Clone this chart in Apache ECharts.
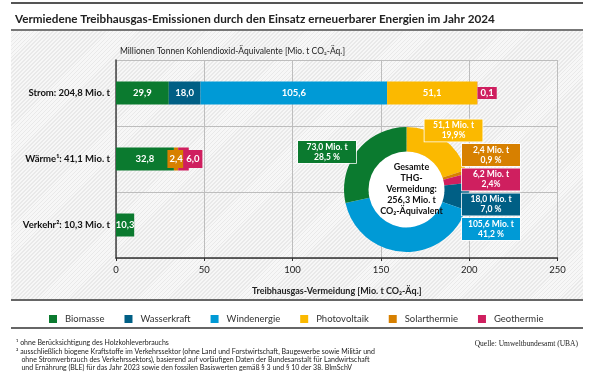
<!DOCTYPE html>
<html><head><meta charset="utf-8">
<script src="https://cdn.jsdelivr.net/npm/echarts@6/dist/echarts.min.js"></script>
<style>
html,body{margin:0;padding:0;background:#fff;}
#wrap{position:relative;width:605px;height:387px;}
#hatch{position:absolute;left:11px;top:31px;width:572px;height:268px;
background:repeating-linear-gradient(135deg,#f7f7f7 0px,#f7f7f7 1.6px,#e9e9e9 1.6px,#e9e9e9 2.8px);}
#chart{position:absolute;left:0;top:0;width:605px;height:387px;}
</style></head>
<body><div id="wrap"><div id="hatch"></div><div id="chart"></div></div>
<script>
// ---- data ----
const categories = ['Strom: 204,8 Mio. t', 'Wärme¹: 41,1 Mio. t', 'Verkehr²: 10,3 Mio. t'];
const sources = ['Biomasse', 'Wasserkraft', 'Windenergie', 'Photovoltaik', 'Solarthermie', 'Geothermie'];
const biomasse = [29.9, 32.8, 10.3];
const wasserkraft = [18.0, null, null];
const windenergie = [105.6, null, null];
const photovoltaik = [51.1, null, null];
const solarthermie = [null, 2.4, null];
const geothermie = [0.1, 6.0, null];
const totalSources = ['Photovoltaik', 'Solarthermie', 'Geothermie', 'Wasserkraft', 'Windenergie', 'Biomasse'];
const totalValues = [51.1, 2.4, 6.2, 18.0, 105.6, 73.0];
const totalShares = ['19,9%', '0,9 %', '2,4%', '7,0 %', '41,2 %', '28,5 %'];
const totalText = 'Gesamte\nTHG-\nVermeidung:\n256,3 Mio. t\nCO₂-Äquivalent';
const xMin = 0, xMax = 250, xStep = 50;

const colors = {
  'Biomasse': '#0b7a2f', 'Wasserkraft': '#005f85', 'Windenergie': '#009ad6',
  'Photovoltaik': '#fbb900', 'Solarthermie': '#d78000', 'Geothermie': '#cf1f5f'
};
const FONT = 'Lato, "Open Sans", sans-serif';
const fmt = v => v.toFixed(1).replace('.', ',');

const seriesValues = [biomasse, wasserkraft, windenergie, photovoltaik, solarthermie, geothermie];
// special label styles for tiny segments
const specialLabels = {
  'Solarthermie-1': {position: 'inside', padding: [4, 2]},
  'Geothermie-1': {position: 'insideLeft', distance: 5, padding: [4, 3]},
  'Geothermie-0': {position: 'right', distance: 0, padding: [1, 3]}
};

const barSeries = sources.map((name, si) => ({
  name, type: 'bar', stack: 'total', barWidth: 23,
  itemStyle: {color: colors[name]},
  label: {show: true, position: 'inside', color: '#fff', fontFamily: FONT, fontWeight: 'bold', fontSize: 9.5,
          formatter: p => fmt(p.value)},
  data: seriesValues[si].map((v, ci) => {
    const sp = specialLabels[name + '-' + ci];
    if (v == null) return null;
    if (!sp) return v;
    return {value: v, label: Object.assign({backgroundColor: colors[name]}, sp)};
  })
}));

// donut label boxes (pixel centers)
const donutLabelPos = [[453.5, 130.5], [491, 155], [491, 179.5], [491, 204.5], [491, 229], [327, 152]];
const donutCenter = [406.5, 189.5];

const pieSeries = {
  type: 'pie', center: donutCenter, radius: [38, 62.5], startAngle: 90, clockwise: true,
  silent: true, z: 5,
  labelLine: {show: false},
  label: {
    show: true, position: 'outside', color: '#fff', fontFamily: FONT, fontWeight: 'bold', fontSize: 8.5,
    lineHeight: 10, width: 50, align: 'center', padding: [1, 4], borderColor: '#fff', borderWidth: 0.8,
    formatter: p => fmt(p.value) + ' Mio. t\n' + totalShares[p.dataIndex]
  },
  labelLayout: p => {
    const pos = donutLabelPos[p.dataIndex];
    return {x: pos[0], y: pos[1], align: 'center', verticalAlign: 'middle', hideOverlap: false, moveOverlap: null};
  },
  data: totalSources.map((n, i) => ({
    name: n, value: totalValues[i],
    itemStyle: {color: colors[n]},
    label: {backgroundColor: colors[n]}
  }))
};
const pieHole = {
  type: 'pie', center: donutCenter, radius: [0, 38], silent: true, z: 4,
  label: {show: false}, labelLine: {show: false},
  data: [{value: 1, name: 'hole', itemStyle: {color: '#fff'}}]
};

const chart = echarts.init(document.getElementById('chart'), null, {renderer: 'canvas'});
chart.setOption({
  animation: false,
  textStyle: {fontFamily: FONT},
  title: [
    {text: 'Vermiedene Treibhausgas-Emissionen durch den Einsatz erneuerbarer Energien im Jahr 2024',
     left: 10, top: 8, textStyle: {fontFamily: FONT, fontSize: 11.7, fontWeight: 'bold', color: '#222'}},
    {text: 'Millionen Tonnen Kohlendioxid-Äquivalente [Mio. t CO₂-Äq.]',
     left: 115, top: 42, textStyle: {fontFamily: FONT, fontSize: 8.5, fontWeight: 'normal', color: '#222'}},
    {text: totalText, left: 406.5, top: 157, textAlign: 'center',
     textStyle: {fontFamily: FONT, fontSize: 9, fontWeight: 'bold', color: '#111', lineHeight: 11}},
    {text: '¹ ohne Berücksichtigung des Holzkohleverbrauchs\n² ausschließlich biogene Kraftstoffe im Verkehrssektor (ohne Land und Forstwirtschaft, Baugewerbe sowie Militär und\n   ohne Stromverbrauch des Verkehrssektors), basierend auf vorläufigen Daten der Bundesanstalt für Landwirtschaft\n   und Ernährung (BLE) für das Jahr 2023 sowie den fossilen Basiswerten gemäß § 3 und § 10 der 38. BImSchV',
     left: 11, top: 334, textStyle: {fontFamily: FONT, fontSize: 7, fontWeight: 'normal', color: '#222', lineHeight: 8.2}},
    {text: 'Quelle: Umweltbundesamt (UBA)', right: 22, top: 335,
     textStyle: {fontFamily: '"Liberation Serif", serif', fontSize: 7.5, fontWeight: 'normal', color: '#222'}}
  ],
  legend: {
    data: sources, left: 44, top: 309, icon: 'rect', itemWidth: 8, itemHeight: 8, itemGap: 20,
    textStyle: {fontFamily: FONT, fontSize: 9.5, color: '#333', padding: [0, 0, 0, 3]}, selectedMode: false
  },
  grid: {left: 116, right: 47.5, top: 60, bottom: 129, containLabel: false},
  xAxis: {
    type: 'value', min: xMin, max: xMax, interval: xStep,
    name: 'Treibhausgas-Vermeidung [Mio. t CO₂-Äq.]', nameLocation: 'middle', nameGap: 29,
    nameTextStyle: {fontFamily: FONT, fontSize: 9, fontWeight: 'bold', color: '#222'},
    axisLine: {show: true, lineStyle: {color: '#333', width: 1.5}},
    axisTick: {show: true, length: 3, lineStyle: {color: '#333'}},
    axisLabel: {fontFamily: FONT, fontSize: 9.5, color: '#222', margin: 7},
    splitLine: {show: true, lineStyle: {color: '#bdbdbd', width: 1}}
  },
  yAxis: {
    type: 'category', data: categories, inverse: true,
    axisLine: {show: true, lineStyle: {color: '#444', width: 1.5}},
    axisTick: {show: false},
    axisLabel: {fontFamily: FONT, fontSize: 9.5, fontWeight: 'bold', color: '#111', margin: 6},
    splitLine: {show: true, lineStyle: {color: '#bdbdbd', width: 1}}
  },
  graphic: [
    {type: 'line', shape: {x1: 11, y1: 3, x2: 583, y2: 3}, style: {stroke: '#555', lineWidth: 2}},
    {type: 'line', shape: {x1: 11, y1: 30, x2: 583, y2: 30}, style: {stroke: '#777', lineWidth: 2}},
    {type: 'line', shape: {x1: 11, y1: 300, x2: 583, y2: 300}, style: {stroke: '#666', lineWidth: 2}},
    {type: 'line', shape: {x1: 11, y1: 328, x2: 583, y2: 328}, style: {stroke: '#666', lineWidth: 2}}
  ],
  series: barSeries.concat([pieHole, pieSeries])
});
</script></body></html>
